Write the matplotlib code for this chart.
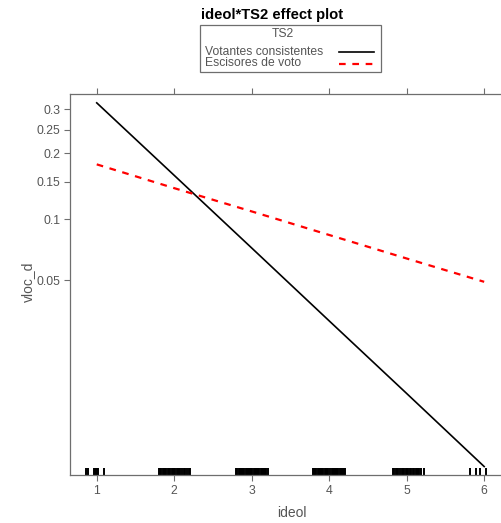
import numpy as np
import matplotlib
matplotlib.use('Agg')
import matplotlib.pyplot as plt
from matplotlib.ticker import FixedLocator, FixedFormatter, NullLocator
from matplotlib.patches import Rectangle
from matplotlib.lines import Line2D

plt.rcParams['font.family'] = ['Liberation Sans', 'DejaVu Sans']

# effect estimates (probability scale)
ideol = [1, 2, 3, 4, 5, 6]
votantes = [0.317, 0.160, 0.0724, 0.0309, 0.0129, 0.0053]
escisores = [0.179, 0.140, 0.109, 0.0839, 0.0642, 0.049]
series_labels = ['Votantes consistentes', 'Escisores de voto']

# rug of observed (jittered) ideol values
rug = [0.866, 0.887, 0.97, 0.98, 0.99, 1.0, 1.01, 1.095,
       1.80, 1.815, 1.83, 1.85, 1.865, 1.88, 1.90, 1.915, 1.93, 1.95, 1.965,
       1.98, 2.00, 2.015, 2.03, 2.05, 2.065, 2.08, 2.10, 2.12, 2.14, 2.165, 2.19, 2.21,
       2.80, 2.815, 2.83, 2.845, 2.86, 2.875, 2.89, 2.905, 2.92, 2.935, 2.95,
       2.965, 2.98, 2.995, 3.01, 3.025, 3.04, 3.055, 3.07, 3.085, 3.10, 3.115,
       3.13, 3.145, 3.16, 3.175, 3.19, 3.205,
       3.79, 3.805, 3.82, 3.835, 3.85, 3.865, 3.88, 3.895, 3.91, 3.925, 3.94,
       3.955, 3.97, 3.985, 4.015, 4.03, 4.045, 4.06, 4.075, 4.09, 4.105, 4.12,
       4.135, 4.15, 4.165, 4.18, 4.195, 4.21,
       4.82, 4.835, 4.86, 4.875, 4.89, 4.92, 4.935, 4.95, 4.965, 4.99, 5.005,
       5.02, 5.045, 5.06, 5.075, 5.09, 5.12, 5.135, 5.15, 5.165, 5.19, 5.225,
       5.82, 5.89, 5.95, 6.02]

yticks = [0.05, 0.1, 0.15, 0.2, 0.25, 0.3]
ytick_labels = ['0.05', '0.1', '0.15', '0.2', '0.25', '0.3']

grey = '#6e6e6e'
txt = '#555555'
W, H = 501, 523


def fx(px):
    return px / W


def fy(py):
    return 1 - py / H


fig = plt.figure(figsize=(W / 100, H / 100), dpi=100)
ax = fig.add_axes([fx(70), fy(475), 1 - fx(70) + 0.002, (475 - 94) / H])

styles = [dict(color='black', lw=1.2), dict(color='red', lw=1.6, dashes=(3, 3))]
ax.plot(ideol, votantes, **styles[0])
ax.plot(ideol, escisores, **styles[1])

ax.set_yscale('logit')
ax.set_ylim(0.00478, 0.341)
ax.set_xlim(0.655, 6.23)

ax.vlines(rug, 0, 0.018, transform=ax.get_xaxis_transform(), color='black', lw=1.4)

ax.yaxis.set_major_locator(FixedLocator(yticks))
ax.yaxis.set_major_formatter(FixedFormatter(ytick_labels))
ax.yaxis.set_minor_locator(NullLocator())
ax.set_xticks(ideol)
ax.set_xticklabels([str(v) for v in ideol])

ax.tick_params(axis='x', direction='out', length=4, width=0.8, color=grey,
               labelcolor=txt, labelsize=8.8, top=True, pad=3)
ax.tick_params(axis='y', direction='out', length=4, width=0.8, color=grey,
               labelcolor=txt, labelsize=8.8, right=False, pad=3)
for s in ax.spines.values():
    s.set_color(grey)
    s.set_linewidth(0.9)

ax.set_xlabel('ideol', fontsize=10, color=txt)
ax.set_ylabel('vloc_d', fontsize=10, color=txt)
ax.xaxis.set_label_coords((291 - 70) / 431, -31 / 381)
ax.yaxis.set_label_coords(-35 / 431, (475 - 282) / 381)

fig.text(fx(272), fy(15), 'ideol*TS2 effect plot', ha='center', va='center',
         fontsize=10.6, fontweight='bold')

# legend box, drawn by hand to get R/lattice layout
fig.add_artist(Rectangle((fx(200), fy(72)), fx(381) - fx(200), fy(25) - fy(72),
                         transform=fig.transFigure, fill=False, edgecolor=grey, lw=0.9))
fig.text(fx(283), fy(34), 'TS2', ha='center', va='center', fontsize=8.7, color=txt)
for i, lab in enumerate(series_labels):
    yy = 52 + 11.5 * i
    fig.text(fx(205), fy(yy), lab, ha='left', va='center', fontsize=8.7, color=txt)
    fig.add_artist(Line2D([fx(339), fx(374)], [fy(yy), fy(yy)],
                          transform=fig.transFigure, **styles[i]))

fig.savefig('out.png', dpi=100)
